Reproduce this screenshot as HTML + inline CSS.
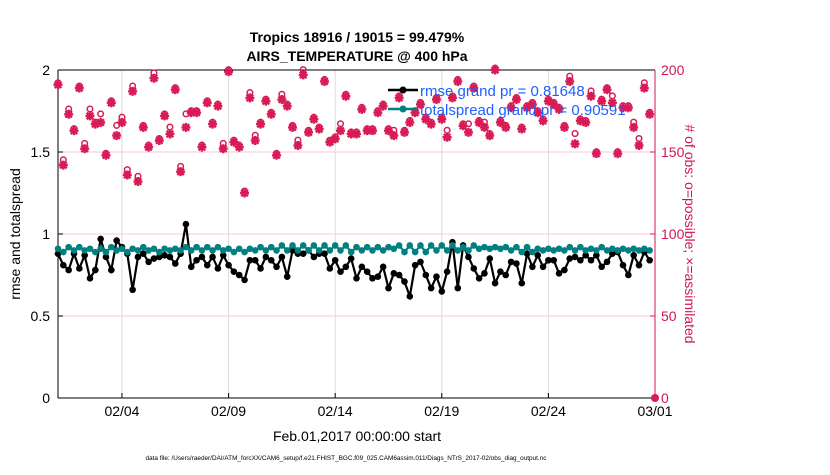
<!DOCTYPE html>
<html><head><meta charset="utf-8"><style>
body{margin:0;background:#fff;width:830px;height:470px;overflow:hidden;font-family:"Liberation Sans",sans-serif}
</style></head><body>
<svg id="chart" width="830" height="470" xmlns="http://www.w3.org/2000/svg" font-family="Liberation Sans, sans-serif">
<text x="357" y="42" text-anchor="middle" font-size="14" font-weight="bold">Tropics 18916 / 19015 = 99.479%</text>
<text x="357" y="61" text-anchor="middle" font-size="14" font-weight="bold">AIRS_TEMPERATURE @ 400 hPa</text>
<g id="grid"></g><g id="axes"></g><g id="obs"></g><g id="series"></g>
<g>
<line x1="388" y1="90" x2="418" y2="90" stroke="#000" stroke-width="2.5"/><circle cx="403" cy="90" r="3.5" fill="#000"/>
<text x="420" y="96" font-size="15" fill="#1f5fff">rmse grand pr = 0.81648</text>
<line x1="388" y1="109" x2="418" y2="109" stroke="#008080" stroke-width="2.5"/><circle cx="403" cy="109" r="3.5" fill="#008080"/>
<text x="420" y="115" font-size="15" fill="#1f5fff">totalspread grand pr = 0.90591</text>
</g>
<text transform="translate(20,234) rotate(-90)" text-anchor="middle" font-size="14">rmse and totalspread</text>
<text transform="translate(685,234) rotate(90)" text-anchor="middle" font-size="14" fill="#d4145a"># of obs: o=possible; ×=assimilated</text>
<text x="357" y="441" text-anchor="middle" font-size="14">Feb.01,2017 00:00:00 start</text>
<text x="346" y="460" text-anchor="middle" font-size="6.4">data file: /Users/raeder/DAI/ATM_forcXX/CAM6_setup/f.e21.FHIST_BGC.f09_025.CAM6assim.011/Diags_NTrS_2017-02/obs_diag_output.nc</text>
</svg>
<script>
const xTickLabels=["02/04","02/09","02/14","02/19","02/24","03/01"];
const xTickDays=[3,8,13,18,23,28];
const yLeftTicks=[0,0.5,1,1.5,2];
const yRightTicks=[0,50,100,150,200];
const rmse=[0.88,0.81,0.78,0.88,0.79,0.87,0.73,0.78,0.97,0.86,0.78,0.96,0.92,0.88,0.66,0.86,0.88,0.83,0.85,0.86,0.87,0.86,0.82,0.88,1.06,0.80,0.84,0.86,0.81,0.86,0.79,0.87,0.81,0.77,0.75,0.72,0.84,0.84,0.79,0.86,0.84,0.80,0.86,0.74,0.90,0.88,0.88,0.90,0.86,0.88,0.88,0.79,0.84,0.77,0.80,0.85,0.73,0.80,0.77,0.73,0.74,0.80,0.67,0.76,0.75,0.71,0.62,0.81,0.83,0.75,0.67,0.74,0.65,0.77,0.95,0.67,0.93,0.86,0.79,0.73,0.76,0.85,0.70,0.77,0.75,0.83,0.82,0.70,0.88,0.80,0.87,0.80,0.84,0.84,0.76,0.78,0.85,0.86,0.84,0.87,0.84,0.87,0.80,0.83,0.88,0.89,0.81,0.75,0.87,0.81,0.89,0.84];
const spread=[0.91,0.89,0.92,0.90,0.92,0.90,0.91,0.89,0.91,0.89,0.92,0.90,0.91,0.89,0.91,0.90,0.92,0.90,0.91,0.89,0.91,0.90,0.91,0.90,0.92,0.90,0.92,0.90,0.92,0.90,0.92,0.90,0.91,0.89,0.91,0.89,0.91,0.90,0.92,0.90,0.92,0.90,0.93,0.90,0.93,0.90,0.93,0.90,0.93,0.90,0.93,0.90,0.93,0.90,0.93,0.89,0.92,0.90,0.92,0.90,0.92,0.90,0.92,0.91,0.93,0.89,0.93,0.89,0.93,0.89,0.93,0.90,0.93,0.90,0.93,0.90,0.92,0.90,0.93,0.91,0.92,0.91,0.92,0.91,0.92,0.90,0.92,0.89,0.92,0.89,0.91,0.90,0.91,0.90,0.91,0.90,0.92,0.90,0.92,0.90,0.91,0.90,0.92,0.90,0.91,0.90,0.91,0.90,0.91,0.90,0.91,0.90];
const obsAssim=[191,142,173,163,189,152,172,167,168,148,180,160,168,136,187,132,165,153,195,157,172,161,188,138,165,174,174,153,180,167,178,152,199,156,153,125,183,157,167,181,173,148,182,178,165,154,197,162,170,164,193,156,158,163,184,161,161,176,163,163,174,178,163,160,183,162,168,174,179,170,167,182,170,159,183,193,166,162,189,168,165,160,200,168,165,177,182,164,177,179,174,169,181,179,176,165,193,155,169,168,184,149,181,188,180,149,177,177,165,154,189,173];
const obsPossible=[191,144,175,163,189,154,175,167,172,148,180,165,170,138,189,134,165,153,197,157,172,164,188,140,172,174,174,153,180,167,178,154,199,156,153,125,185,159,167,181,173,148,184,178,165,156,199,162,170,164,193,156,158,166,184,161,161,176,163,163,174,178,163,162,183,162,168,174,179,170,167,182,170,162,183,193,166,166,189,168,167,160,200,168,165,177,182,164,177,179,174,169,181,179,176,165,195,160,169,168,186,149,181,188,183,149,177,177,167,157,191,173];

const X0=58,X1=655,YT=70,YB=398,NS="http://www.w3.org/2000/svg";
const xDay=d=>X0+(X1-X0)*d/28;
const yL=v=>YB-(YB-YT)*v/2;
const yR=v=>YB-(YB-YT)*v/200;
function mk(tag,attrs,parent){const e=document.createElementNS(NS,tag);for(const k in attrs)e.setAttribute(k,attrs[k]);parent.appendChild(e);return e;}
const grid=document.getElementById('grid'),axes=document.getElementById('axes'),obs=document.getElementById('obs'),ser=document.getElementById('series');
xTickDays.forEach((d,i)=>{
  const g=mk('line',{x1:xDay(d),x2:xDay(d),y1:YT,y2:YB,stroke:'#dcdcdc','stroke-width':1},grid);
  
  
  const t=mk('text',{x:xDay(d),y:YB+18,'text-anchor':'middle','font-size':14},axes);t.textContent=xTickLabels[i];
  
  
  mk('line',{x1:xDay(d),x2:xDay(d),y1:YB,y2:YB-5,stroke:'#000'},axes);
});
yRightTicks.forEach(v=>{
  if(v>0&&v<200){const g=mk('line',{x1:X0,x2:X1,y1:yR(v),y2:yR(v),stroke:'#f6c8d6','stroke-width':1},grid);
  
  }
  const t=mk('text',{x:X1+6,y:yR(v)+5,'font-size':14,fill:'#d4145a'},axes);t.textContent=v;
  
  
  mk('line',{x1:X1,x2:X1-5,y1:yR(v),y2:yR(v),stroke:'#d4145a'},axes);
});
yLeftTicks.forEach(v=>{
  const t=mk('text',{x:X0-8,y:yL(v)+5,'font-size':14,'text-anchor':'end'},axes);t.textContent=v;
  
  
  mk('line',{x1:X0,x2:X0+5,y1:yL(v),y2:yL(v),stroke:'#000'},axes);
});
mk('line',{x1:X0,x2:X0,y1:YT,y2:YB,stroke:'#000'},axes);
mk('line',{x1:X0,x2:X1,y1:YB,y2:YB,stroke:'#000'},axes);
mk('line',{x1:X0,x2:X1,y1:YT,y2:YT,stroke:'#000'},axes);
mk('line',{x1:X1,x2:X1,y1:YT,y2:YB,stroke:'#d4145a'},axes);
const xi=i=>xDay(i/4);
const C='#d81b55';
obsPossible.forEach((v,i)=>{
  const c=mk('circle',{cx:xi(i),cy:yR(v)-2,r:2.8,fill:'none',stroke:C,'stroke-width':1.5},obs);
  
  
});
obsAssim.forEach((v,i)=>{
  const x=xi(i),y=yR(v);
  const p=mk('path',{d:`M${x-4.5} ${y}h9M${x} ${y-4.5}v9M${x-3.3} ${y-3.3}l6.6 6.6M${x-3.3} ${y+3.3}l6.6 -6.6`,stroke:C,'stroke-width':2.4},obs);
  
  
});
const zc=mk('circle',{cx:X1,cy:YB,r:4,fill:C},obs);


function line(arr,col,name){
  const pl=mk('polyline',{points:arr.map((v,i)=>xi(i)+','+yL(v)).join(' '),fill:'none',stroke:col,'stroke-width':2.2},ser);
  
  
  arr.forEach((v,i)=>{const c=mk('circle',{cx:xi(i),cy:yL(v),r:3.3,fill:col},ser);
    
    });
}
line(rmse,'#000','rmse');
line(spread,'#008080','totalspread');
</script>
</body></html>
